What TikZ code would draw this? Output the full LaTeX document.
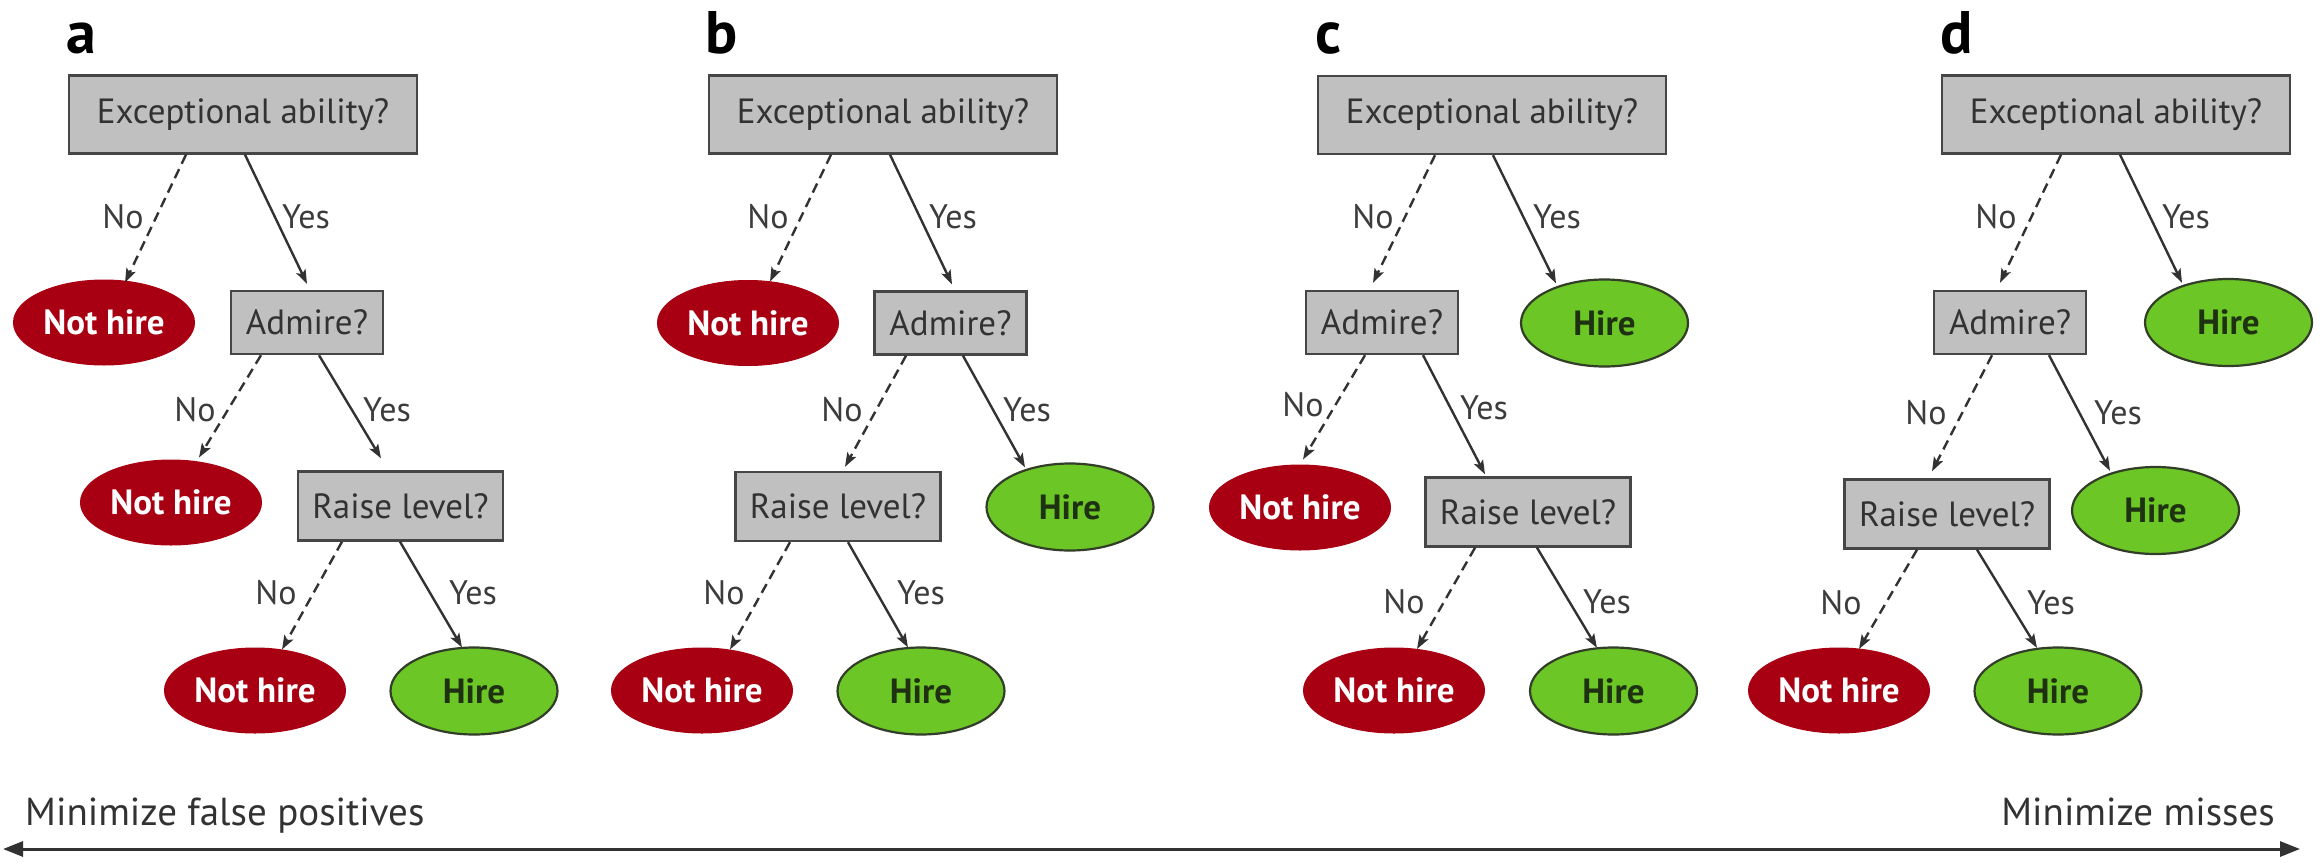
\documentclass[tikz,border=0pt]{standalone}
\usepackage{fontspec}
\setmainfont{PT Sans}
\usetikzlibrary{arrows.meta,shapes.geometric}
\definecolor{boxfill}{RGB}{192,192,192}
\definecolor{boxdraw}{RGB}{70,70,70}
\definecolor{boxtext}{RGB}{50,50,50}
\definecolor{nhred}{RGB}{168,0,18}
\definecolor{hgreen}{RGB}{108,198,38}
\definecolor{hborder}{RGB}{50,62,40}
\definecolor{htext}{RGB}{30,50,18}
\definecolor{labcol}{RGB}{60,60,60}
\definecolor{linecol}{RGB}{50,50,50}
\begin{document}
\begin{tikzpicture}[x=1pt,y=-1pt,
  qbox/.style={draw=boxdraw, line width=2.4pt, fill=boxfill, text=boxtext, inner sep=0pt,
    font=\fontsize{35}{42}\selectfont},
  bigq/.style={qbox, minimum width=348pt, minimum height=78pt},
  admq/.style={qbox, minimum width=152pt, minimum height=63pt},
  raiseq/.style={qbox, minimum width=205pt, minimum height=69pt},
  nothire/.style={ellipse, fill=nhred, draw=nhred, line width=1pt, minimum width=181pt, minimum height=85pt,
    inner sep=0pt, text=white, font=\bfseries\fontsize{35}{42}\selectfont},
  hire/.style={ellipse, fill=hgreen, draw=hborder, line width=2.2pt, minimum width=167pt, minimum height=87pt,
    inner sep=0pt, text=htext, font=\bfseries\fontsize{35}{42}\selectfont},
  yesarr/.style={draw=linecol, line width=2.4pt, -{Stealth[length=14pt,width=10pt,inset=3pt]}},
  noarr/.style={yesarr, dash pattern=on 10pt off 6pt},
  lab/.style={text=labcol, inner sep=0pt, font=\fontsize{34}{40}\selectfont},
  letter/.style={text=black, inner sep=0pt, anchor=base west, font=\bfseries\fontsize{60}{70}\selectfont},
  bottomtext/.style={text=boxtext, inner sep=0pt, font=\fontsize{39}{46}\selectfont},
  bigarrow/.style={draw=linecol, line width=3pt, {Triangle[length=20pt,width=15pt]}-{Triangle[length=20pt,width=15pt]}}
]
\useasboundingbox (0,0) rectangle (2323,862);

% ---------- panel a ----------
\node[letter] (la) at (66,53) {a};
\node[bigq] (ea) at (243,114.5) {Exceptional ability?};
\node[nothire] (na1) at (104,322.5) {Not hire};
\node[admq] (ada) at (307,322.5) {Admire?};
\node[nothire] (na2) at (171,502.5) {Not hire};
\node[raiseq] (ra) at (400.5,506) {Raise level?};
\node[nothire] (na3) at (255,690.5) {Not hire};
\node[hire] (ha) at (474,691) {Hire};
\draw[noarr] ([xshift=-57pt]ea.south) -- ([xshift=21pt,yshift=-3pt]na1.north);
\draw[yesarr] ([xshift=2pt]ea.south) -- ([yshift=6pt]ada.north);
\draw[noarr] ([xshift=-46pt]ada.south) -- ([xshift=28pt,yshift=2pt]na2.north);
\draw[yesarr] ([xshift=12pt]ada.south) -- ([xshift=-19.5pt,yshift=12pt]ra.north);
\draw[noarr] ([xshift=-58.5pt]ra.south) -- ([xshift=27pt,yshift=-2pt]na3.north);
\draw[yesarr] ([xshift=-0.5pt]ra.south) -- ([xshift=-12pt,yshift=-1pt]ha.north);
\node[lab] (a1n) at (123,217) {No};
\node[lab] (a1y) at (306,217) {Yes};
\node[lab] (a2n) at (195,410) {No};
\node[lab] (a2y) at (387,410) {Yes};
\node[lab] (a3n) at (276,593) {No};
\node[lab] (a3y) at (473,593) {Yes};

% ---------- panel b ----------
\node[letter] (lb) at (705,53) {b};
\node[bigq] (eb) at (883,114.5) {Exceptional ability?};
\node[nothire] (nb1) at (748,323) {Not hire};
\node[admq] (adb) at (950.5,323) {Admire?};
\node[raiseq] (rb) at (838,506.5) {Raise level?};
\node[hire] (hb1) at (1070,507) {Hire};
\node[nothire] (nb2) at (702,690.5) {Not hire};
\node[hire] (hb2) at (921,691) {Hire};
\draw[noarr] ([xshift=-52pt]eb.south) -- ([xshift=22pt,yshift=-1.5pt]nb1.north);
\draw[yesarr] ([xshift=7pt]eb.south) -- ([xshift=1.5pt,yshift=6pt]adb.north);
\draw[noarr] ([xshift=-44.5pt]adb.south) -- ([xshift=7pt,yshift=4pt]rb.north);
\draw[yesarr] ([xshift=12.5pt]adb.south) -- ([xshift=-45pt,yshift=-5pt]hb1.north);
\draw[noarr] ([xshift=-48pt]rb.south) -- ([xshift=28pt,yshift=-2pt]nb2.north);
\draw[yesarr] ([xshift=10pt]rb.south) -- ([xshift=-13pt,yshift=-1pt]hb2.north);
\node[lab] (b1n) at (768,217) {No};
\node[lab] (b1y) at (953,217) {Yes};
\node[lab] (b2n) at (842,410) {No};
\node[lab] (b2y) at (1027,410) {Yes};
\node[lab] (b3n) at (724,593) {No};
\node[lab] (b3y) at (921,593) {Yes};

% ---------- panel c ----------
\node[letter] (lc) at (1315,53) {c};
\node[bigq] (ec) at (1492,115) {Exceptional ability?};
\node[admq] (adc) at (1382,322.5) {Admire?};
\node[hire] (hc1) at (1604.5,323) {Hire};
\node[nothire] (nc1) at (1300,507.5) {Not hire};
\node[raiseq] (rc) at (1528,512) {Raise level?};
\node[nothire] (nc2) at (1394,690.5) {Not hire};
\node[hire] (hc2) at (1613.5,691) {Hire};
\draw[noarr] ([xshift=-57pt]ec.south) -- ([xshift=-9pt,yshift=7pt]adc.north);
\draw[yesarr] ([xshift=1pt]ec.south) -- ([xshift=-48.5pt,yshift=-5pt]hc1.north);
\draw[noarr] ([xshift=-17pt]adc.south) -- ([xshift=3pt,yshift=5pt]nc1.north);
\draw[yesarr] ([xshift=41pt]adc.south) -- ([xshift=-43pt,yshift=2pt]rc.north);
\draw[noarr] ([xshift=-53pt]rc.south) -- ([xshift=23pt,yshift=-1.5pt]nc2.north);
\draw[yesarr] ([xshift=9pt]rc.south) -- ([xshift=-16.5pt,yshift=-1.5pt]hc2.north);
\node[lab] (c1n) at (1373,217) {No};
\node[lab] (c1y) at (1557,217) {Yes};
\node[lab] (c2n) at (1303,405) {No};
\node[lab] (c2y) at (1484,408) {Yes};
\node[lab] (c3n) at (1404,602) {No};
\node[lab] (c3y) at (1607,602) {Yes};

% ---------- panel d ----------
\node[letter] (ld) at (1940,53) {d};
\node[bigq] (ed) at (2116,114.5) {Exceptional ability?};
\node[admq] (add) at (2010,322.5) {Admire?};
\node[hire] (hd1) at (2228.5,322.5) {Hire};
\node[raiseq] (rd) at (1947,514) {Raise level?};
\node[hire] (hd2) at (2155.5,510.5) {Hire};
\node[nothire] (nd) at (1839,690.5) {Not hire};
\node[hire] (hd3) at (2058,691) {Hire};
\draw[noarr] ([xshift=-55pt]ed.south) -- ([xshift=-10pt,yshift=7pt]add.north);
\draw[yesarr] ([xshift=4pt]ed.south) -- ([xshift=-46.5pt,yshift=-5pt]hd1.north);
\draw[noarr] ([xshift=-18pt]add.south) -- ([xshift=-15pt,yshift=7pt]rd.north);
\draw[yesarr] ([xshift=39pt]add.south) -- ([xshift=-45.5pt,yshift=-5pt]hd2.north);
\draw[noarr] ([xshift=-30pt]rd.south) -- ([xshift=20pt,yshift=-1.5pt]nd.north);
\draw[yesarr] ([xshift=30pt]rd.south) -- ([xshift=-21pt,yshift=-1.5pt]hd3.north);
\node[lab] (d1n) at (1996,217) {No};
\node[lab] (d1y) at (2186,217) {Yes};
\node[lab] (d2n) at (1926,413) {No};
\node[lab] (d2y) at (2118,413) {Yes};
\node[lab] (d3n) at (1841,603) {No};
\node[lab] (d3y) at (2051,603) {Yes};

% ---------- bottom axis ----------
\node[bottomtext, anchor=base west] (mfp) at (25,825) {Minimize false positives};
\node[bottomtext, anchor=base east] (mm) at (2275,825) {Minimize misses};
\coordinate (axl) at (3,849);
\coordinate (axr) at (2300,849);
\draw[bigarrow] (axl) -- (axr);
\end{tikzpicture}
\end{document}
